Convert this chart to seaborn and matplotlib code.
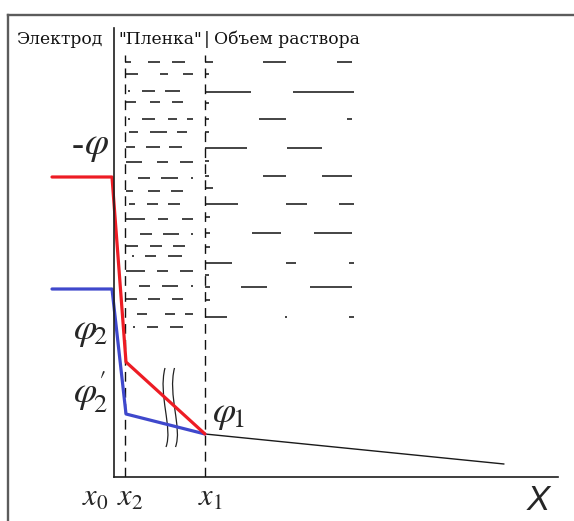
import matplotlib
matplotlib.use("Agg")
import matplotlib.pyplot as plt
from matplotlib.path import Path
from matplotlib.patches import PathPatch
import seaborn as sns
import pandas as pd

sns.set_style("white")
plt.rcParams["mathtext.fontset"] = "stix"
plt.rcParams["font.family"] = ["DejaVu Serif", "Liberation Serif"]

# Characteristic coordinates (distance units) and potentials
x0, x2, x1 = 0.0, 1.1, 9.1
pot_x = [-6.2, -0.2, 1.2, x1]
phi_red = [30.0, 30.0, 11.5, 4.3]      # -phi profile
phi_blue = [18.8, 18.8, 6.3, 4.3]      # phi2 -> phi2' -> phi1 profile
bulk_x = [x1, 39.0]
bulk_phi = [4.3, 1.3]

# Liquid hatch inside the film: row heights and dash extents
film_y = [41.5, 40.3, 38.6, 37.5, 35.8, 34.5, 33.0, 31.5, 29.9, 28.6, 27.3,
          25.8, 24.3, 23.1, 22.1, 20.6, 19.1, 17.8, 16.3, 15.0]
film_dashes = [
    [(1.1, 1.7), (3.4, 4.6), (5.8, 7.1)],
    [(1.1, 2.4), (4.6, 5.4), (6.9, 7.9)],
    [(1.4, 1.6), (2.8, 4.1), (5.1, 6.6)],
    [(1.2, 2.2), (3.6, 4.6), (5.8, 6.9)],
    [(1.4, 1.6), (2.8, 4.1), (5.4, 6.3), (7.3, 7.9)],
    [(1.5, 2.4), (3.6, 5.3), (6.3, 7.3)],
    [(1.2, 2.1), (3.2, 4.6), (5.5, 6.8)],
    [(1.2, 2.8), (4.3, 5.4), (6.6, 7.9)],
    [(2.4, 3.6), (4.7, 6.4), (7.7, 7.9)],
    [(1.2, 1.9), (3.4, 4.6), (5.7, 6.9)],
    [(1.5, 2.1), (3.3, 4.4), (5.4, 6.6)],
    [(1.2, 3.1), (4.4, 5.4), (6.8, 7.9)],
    [(2.6, 3.8), (4.9, 6.5), (7.7, 7.9)],
    [(1.2, 2.4), (3.6, 4.8), (5.9, 7.1)],
    [(1.8, 2.0), (3.1, 4.2), (5.4, 6.8)],
    [(1.2, 3.1), (4.3, 5.4), (6.6, 7.9)],
    [(2.5, 3.6), (4.8, 6.4), (7.7, 7.9)],
    [(1.2, 2.3), (3.4, 4.6), (5.8, 6.9)],
    [(2.3, 3.3), (5.1, 6.1), (7.1, 7.9)],
    [(1.9, 2.1), (3.3, 4.4), (5.6, 6.9)],
]

# Liquid hatch in the bulk solution
bulk_y = [41.5, 40.3, 38.5, 37.4, 35.8, 34.5, 32.9, 31.6, 30.1, 28.9, 27.3,
          26.0, 24.4, 23.0, 21.4, 20.2, 19.0, 17.7, 16.0]
bulk_dashes = [
    [(9.1, 9.9), (14.9, 17.2), (22.3, 23.8)],
    [(9.1, 9.5)],
    [(9.1, 13.7), (17.9, 24.0)],
    [(9.1, 9.5)],
    [(9.1, 9.5), (14.5, 17.2), (23.3, 23.8)],
    [(9.1, 9.5)],
    [(9.1, 13.3), (17.3, 20.8)],
    [(9.1, 9.5)],
    [(9.1, 9.5), (14.9, 17.2), (20.8, 23.8)],
    [(9.1, 9.9)],
    [(9.1, 12.4), (17.2, 19.3), (22.5, 24.0)],
    [(9.1, 9.6)],
    [(9.1, 9.6), (13.8, 16.7), (20.0, 23.8)],
    [(9.1, 9.6)],
    [(9.1, 11.8), (17.2, 18.2), (23.5, 24.0)],
    [(9.1, 9.5)],
    [(9.1, 9.6), (12.7, 15.3), (19.6, 23.8)],
    [(9.1, 9.6)],
    [(9.1, 11.3), (17.1, 17.3), (23.5, 24.0)],
]

# Axis-break strokes drawn across the two profiles
break_x = [5.1, 4.4, 5.9, 5.2]
break_y = [10.9, 8.2, 4.9, 3.0]
break_shift = 0.95

header = ["Электрод", "\"Пленка\"", "|", "Объем раствора"]
header_x = [-9.8, 0.4, 9.0, 9.95]

RED = "#ED1C24"
BLUE = "#3F48CC"

fig = plt.figure(figsize=(5.74, 5.21), dpi=100)

# Page frame (left and top rules)
frame = fig.add_axes([8 / 574, 0, 566 / 574, 506 / 521])
frame.set_facecolor("none")
for side in ("right", "bottom"):
    frame.spines[side].set_visible(False)
for side in ("left", "top"):
    frame.spines[side].set_color("#5c5c5c")
    frame.spines[side].set_linewidth(1.7)
frame.set_xticks([])
frame.set_yticks([])

ax = fig.add_axes([114 / 574, 44 / 521, 444 / 574, 449 / 521])
ax.set_facecolor("none")
ax.set_xlim(0, 44.4)
ax.set_ylim(0, 44.9)
for side in ("right", "top"):
    ax.spines[side].set_visible(False)
for side in ("left", "bottom"):
    ax.spines[side].set_color("#1e1e1e")
    ax.spines[side].set_linewidth(1.2)
ax.set_xticks([])
ax.set_yticks([])

# Boundary lines of the film
ax.vlines([x2, x1], 0, 42.2, colors="#111111", lw=1.0,
          linestyles=[(0, (7, 4.5))])

# Hatch pattern
for y, segs in zip(film_y, film_dashes):
    ax.hlines([y] * len(segs), [s[0] for s in segs], [s[1] for s in segs],
              colors="#111111", lw=1.1)
for y, segs in zip(bulk_y, bulk_dashes):
    ax.hlines([y] * len(segs), [s[0] for s in segs], [s[1] for s in segs],
              colors="#111111", lw=1.1)

# Potential profiles
df_red = pd.DataFrame({"x": pot_x, "phi": phi_red})
df_blue = pd.DataFrame({"x": pot_x, "phi": phi_blue})
df_bulk = pd.DataFrame({"x": bulk_x, "phi": bulk_phi})
sns.lineplot(data=df_bulk, x="x", y="phi", sort=False, color="#1a1a1a", lw=1.0, ax=ax)
sns.lineplot(data=df_blue, x="x", y="phi", sort=False, color=BLUE, lw=2.3, ax=ax)
sns.lineplot(data=df_red, x="x", y="phi", sort=False, color=RED, lw=2.3, ax=ax)
for ln in ax.lines:
    ln.set_clip_on(False)
    ln.set_solid_joinstyle("round")

# Break strokes
codes = [Path.MOVETO, Path.CURVE4, Path.CURVE4, Path.CURVE4]
for k in range(2):
    pts = [(bx + k * break_shift, by) for bx, by in zip(break_x, break_y)]
    ax.add_patch(PathPatch(Path(pts, codes), fill=False, lw=0.9,
                           edgecolor="#222222", clip_on=False))

# Labels
ax.text(-3.6, 33.0, "-", fontsize=26, ha="center", va="center",
        fontstyle="italic", family=["Liberation Serif"])
ax.text(-1.8, 33.1, r"$\varphi$", fontsize=28, ha="center", va="center")
ax.text(-0.6, 14.6, r"$\varphi_{\!2}$", fontsize=27, ha="right", va="center")
ax.text(-0.6, 8.5, r"$\varphi^{\prime}_{\!2}$", fontsize=27, ha="right", va="center")
ax.text(9.8, 6.3, r"$\varphi_{\!1}$", fontsize=27, ha="left", va="center")
for lab, xp in zip([r"$x_0$", r"$x_2$", r"$x_1$"], [-1.85, 1.65, 9.6]):
    ax.text(xp, -2.0, lab, fontsize=22, ha="center", va="center")
ax.text(42.45, -2.3, "X", fontsize=25, ha="center", va="center",
        fontstyle="italic", family=["Liberation Sans", "DejaVu Sans"])

for t, xp in zip(header, header_x):
    ax.text(xp, 43.3, t, fontsize=12.3, ha="left", va="baseline", color="#111111")

fig.savefig("out.png", dpi=100)
